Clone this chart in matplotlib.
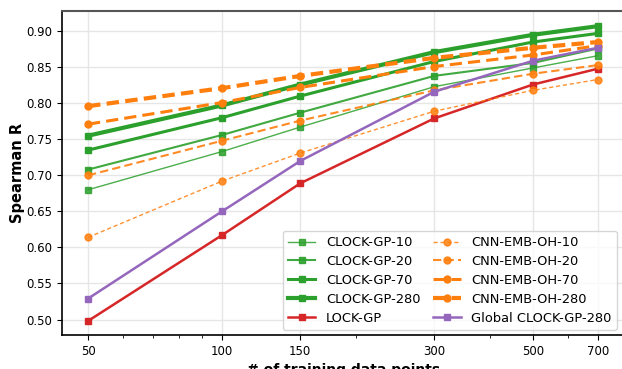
import numpy as np
import matplotlib
matplotlib.use("Agg")
import matplotlib.pyplot as plt
from matplotlib.ticker import FixedLocator, FixedFormatter, NullFormatter, LogLocator

n_points = [50, 100, 150, 300, 500, 700]

clock_gp_10 = [0.680, 0.733, 0.767, 0.823, 0.849, 0.866]
clock_gp_20 = [0.708, 0.756, 0.787, 0.838, 0.856, 0.876]
clock_gp_70 = [0.735, 0.780, 0.810, 0.858, 0.885, 0.897]
clock_gp_280 = [0.755, 0.797, 0.826, 0.871, 0.895, 0.907]
lock_gp = [0.498, 0.617, 0.689, 0.779, 0.826, 0.848]
cnn_10 = [0.614, 0.692, 0.731, 0.789, 0.818, 0.833]
cnn_20 = [0.700, 0.748, 0.776, 0.818, 0.841, 0.853]
cnn_70 = [0.771, 0.801, 0.822, 0.851, 0.867, 0.880]
cnn_280 = [0.796, 0.821, 0.838, 0.863, 0.877, 0.885]
global_clock_280 = [0.529, 0.650, 0.720, 0.816, 0.859, 0.877]

green = "#2ca02c"
orange = "#ff7f0e"

fig = plt.figure(figsize=(6.22, 3.69), dpi=100)
ax = fig.add_axes([0.0997, 0.0921, 0.905, 0.878])

ax.plot(n_points, clock_gp_10, color=green, lw=1.0, marker="s", ms=5, alpha=0.85, label="CLOCK-GP-10")
ax.plot(n_points, clock_gp_20, color=green, lw=1.5, marker="s", ms=5, alpha=0.9, label="CLOCK-GP-20")
ax.plot(n_points, clock_gp_70, color=green, lw=2.2, marker="s", ms=5, label="CLOCK-GP-70")
ax.plot(n_points, clock_gp_280, color=green, lw=3.0, marker="s", ms=5, label="CLOCK-GP-280")
ax.plot(n_points, lock_gp, color="#d62728", lw=1.8, marker="s", ms=5, label="LOCK-GP")
ax.plot(n_points, cnn_10, color=orange, lw=1.0, ls=(0, (3, 2)), marker="o", ms=5, alpha=0.85, label="CNN-EMB-OH-10")
ax.plot(n_points, cnn_20, color=orange, lw=1.5, ls=(0, (4, 2)), marker="o", ms=5, alpha=0.9, label="CNN-EMB-OH-20")
ax.plot(n_points, cnn_70, color=orange, lw=2.2, ls=(0, (4, 2)), marker="o", ms=5, label="CNN-EMB-OH-70")
ax.plot(n_points, cnn_280, color=orange, lw=3.0, ls=(0, (3, 1.5)), marker="o", ms=5, label="CNN-EMB-OH-280")
ax.plot(n_points, global_clock_280, color="#9467bd", lw=1.8, marker="s", ms=5, label="Global CLOCK-GP-280")

ax.set_xscale("log")
ax.set_xlim(43.7, 805)
ax.set_ylim(0.4785, 0.928)
ax.xaxis.set_major_locator(FixedLocator(n_points))
ax.xaxis.set_major_formatter(FixedFormatter([str(v) for v in n_points]))
ax.xaxis.set_minor_locator(LogLocator(base=10, subs=np.arange(2, 10)))
ax.xaxis.set_minor_formatter(NullFormatter())
yt = np.arange(0.50, 0.91, 0.05)
ax.set_yticks(yt)
ax.set_yticklabels([f"{v:.2f}" for v in yt])
ax.tick_params(labelsize=8.5)

ax.grid(True, which="major", color="#e6e6e6", lw=1)
ax.set_axisbelow(True)
ax.spines["top"].set_color("#555555")
ax.spines["top"].set_linewidth(1.5)
ax.spines["left"].set_linewidth(1.2)
ax.spines["bottom"].set_linewidth(1.2)

ax.set_ylabel("Spearman R", fontsize=10.5, fontweight="bold", labelpad=1)
ax.set_xlabel("# of training data points", fontsize=10, fontweight="bold")

ax.legend(ncol=2, loc="lower right", fontsize=9.4, handlelength=2.1,
          columnspacing=1.0, labelspacing=0.45, borderaxespad=0.4,
          bbox_to_anchor=(0.995, 0.0))

fig.savefig("out.png", dpi=100)
